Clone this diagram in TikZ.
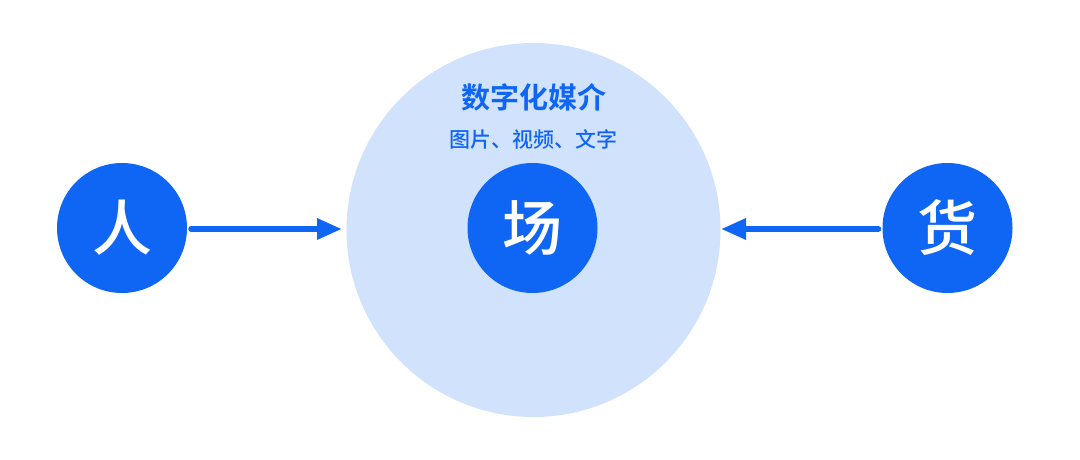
\documentclass[tikz,border=0pt]{standalone}
\usepackage{fontspec}
\setmainfont{Noto Sans CJK SC}
\newfontfamily\cjk{Noto Sans CJK SC Medium}
\newfontfamily\cjkb{Noto Sans CJK SC Bold}
\usetikzlibrary{arrows.meta}
\definecolor{dblue}{HTML}{0F66F5}
\definecolor{lblue}{HTML}{D1E2FD}
\begin{document}
\begin{tikzpicture}[x=1pt,y=-1pt,
  bigc/.style={circle,fill=lblue,minimum size=374pt,inner sep=0pt},
  smallc/.style={circle,fill=dblue,minimum size=130pt,inner sep=0pt,text=white,font=\cjk\fontsize{60}{62}\selectfont},
  conn/.style={draw=dblue,line width=6pt,line cap=round,-{Triangle[length=25pt,width=20pt,line cap=butt]}},
  ttl/.style={text=dblue,inner sep=0pt}]
\useasboundingbox (0,0) rectangle (1080,460);
\fill[white] (0,0) rectangle (1080,460);
\node[bigc] (big) at (533.5,230) {};
\node[smallc] (chang) at (532.5,228) {场};
\node[smallc] (ren) at (122,228) {人};
\node[smallc] (huo) at (947.5,228) {货};
\node[ttl,font=\cjkb\fontsize{29}{31}\selectfont] (t1) at (533.5,97) {数字化媒介};
\node[ttl,font=\cjk\fontsize{21}{23}\selectfont] (t2) at (533.5,139) {图片、视频、文字};
\coordinate (lt) at (342,229);
\coordinate (rt) at (721,229);
\draw[conn] (ren.east) ++(4,1) -- (lt);
\draw[conn] (huo.west) ++(-4,1) -- (rt);
\end{tikzpicture}
\end{document}
